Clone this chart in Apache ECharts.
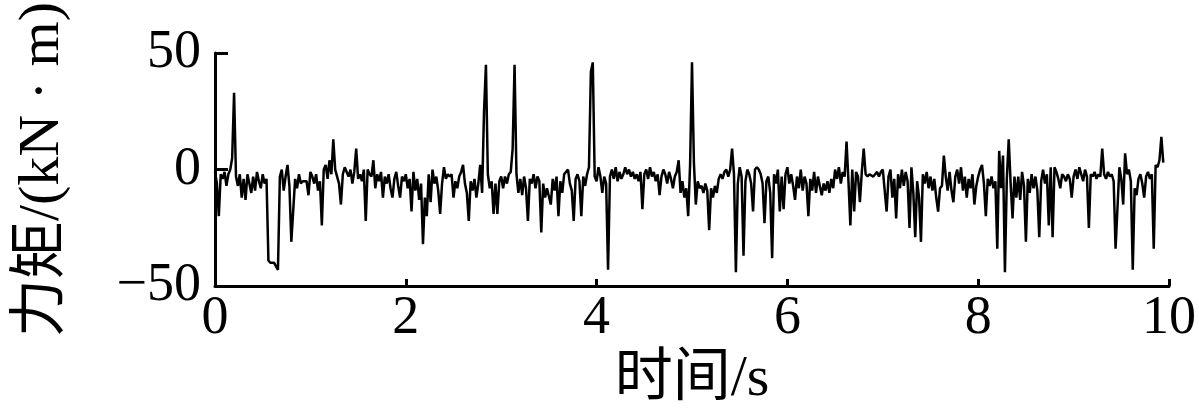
<!DOCTYPE html>
<html>
<head>
<meta charset="utf-8">
<script src="https://cdn.jsdelivr.net/npm/echarts@6/dist/echarts.min.js"></script>
<style>
html,body{margin:0;padding:0;background:#fff;}
#chart{width:1199px;height:414px;}
</style>
</head>
<body>
<div id="chart"></div>
<script>
// sample step of the torque record (s)
var sampleStep = 0.02;
// torque values (kN·m), one per sample
var torque = [
  -1, -6, -20, -2, -4,   -1, -7, -2, 0, 5,
  33, -3, -7, -2, -12,   -4, -13, -2, -6, -10,
  -3, -9, -1, -5, -8,    -2, -6, -4, -39, -40,
  -40, -40, -40, -43, -3, 0, -9, -3, 2, -7,
  -31, -31, -4, -8, -2,  -6, -5, -5, -5, -11,
  -1, -3, -6, -2, -9,    -5, -24, 0, 2, -4,
  4, -2, 13, 0, -3,      -6, -15, -2, 1, -1,
  -3, 0, -6, -1, 9,      -4, -2, -5, 0, -22,
  0, -2, -3, 4, -8,      -2, -5, -1, -12, -3,
  -6, -2, -8, -12, -4,   -1, -7, -12, -3, -5,
  -2, -8, -4, -18, -1,   -9, -4, -13, -6, -32,
  -12, -20, -2, -14, 0,  -6, -3, -9, -19, -6,
  1, -4, -2, -3, -2,     -12, -5, -8, -3, -1,
  2, -6, -10, -22, -5,   -9, -4, -12, -6, 2,
  -10, 25, 45, -2, -8,   -5, -19, -6, -19, -5,
  -3, -8, -3, -6, -2,    -1, 9, 45, -2, -10,
  -4, -11, -3, -8, -22,  -4, -6, -2, -8, -3,
  -5, -27, -6, -12, -8,  -8, -15, -4, -9, -3,
  -20, -5, -10, -2, -1,  0, -6, -9, -22, -4,
  -2, -5, -20, -3, -7,   -2, 1, 42, 46, -3,
  -5, 1, -3, -10, -3,    -6, -43, -3, 0, -4,
  1, -5, -1, -4, -2,     1, -2, 0, -3, -1,
  -4, -2, -5, -1, -17,   -2, 0, -4, 1, -3,
  -1, -5, -2, -11, -3,   0, -2, -6, -1, -4,
  -8, -3, -1, 4, -10,    -5, -12, -8, -20, 2,
  46, 3, -15, -5, -8,    -7, -10, -6, -9, -26,
  -8, -12, -7, -10, -4,  -2, -4, -1, 0, -3,
  0, 9, -2, -44, -6,     1, -3, -37, -5, 0,
  -2, -6, -18, 0, 1,     0, -2, -6, -23, -5,
  -3, -10, -38, -2, -6,  0, -18, -3, -17, -2,
  1, -6, -2, -7, -13,    -3, -8, 0, -9, -3,
  -6, -20, -4, -9, -1,   -10, -3, -7, -11, -6,
  -9, -5, -10, -4, -8,   0, -4, 1, -6, -1,
  -3, 12, -5, -24, 0,    -18, -1, -3, -14, -1,
  9, -2, -3, -2, -2,     -3, -2, -1, -3, -1,
  0, -9, -18, -3, 0,     -12, -4, -21, -2, -8,
  0, -7, -1, -5, -25,    1, -10, -29, -5, -12,
  -31, -2, -6, -1, -8,   -3, -9, -4, -12, -18,
  -8, -7, 6, -3, -9,     -1, -9, -14, -3, 0,
  -6, 1, -9, -3, -12,    -4, -8, -2, -15, -7,
  -3, 0, 2, -6, -20,     -4, -7, -3, -8, -5,
  -34, 8, -8, 6, -44,    -4, 13, -6, -21, -3,
  -12, -3, -13, -1, -7,  -31, -4, -10, -2, -8,
  -3, -9, -29, -5, 0,    -6, -2, -24, 1, -29,
  1, -1, -4, -8, -2,     -3, -5, -2, -4, -12,
  -3, 0, -4, 1, -2,      -5, 0, -3, -25, -2,
  -3, -1, -4, -2, -3,    9, -2, -4, -1, -3,
  -2, -5, -34, -34, 1,   -4, -15, 7, -2, 0,
  -5, -43, -8, -11, -4,  -2, -6, -12, -3, -1,
  -4, -2, -34, 2, 1,     4, 14, 3
];
var xTicks = [0, 2, 4, 6, 8, 10];
var yTicks = [-50, 0, 50];
var xTitle = '时间/s';
var yTitle = '力矩/(kN · m)';

var points = torque.map(function (v, i) {
  return [+(i * sampleStep).toFixed(2), v];
});

var font = "'Liberation Serif', 'Times New Roman', 'Noto Sans CJK SC', serif";
var chart = echarts.init(document.getElementById('chart'), null, {renderer: 'canvas'});
chart.setOption({
  animation: false,
  backgroundColor: '#ffffff',
  grid: {left: 215, right: 30, top: 53, bottom: 126, containLabel: false},
  xAxis: {
    type: 'value',
    min: xTicks[0], max: xTicks[xTicks.length - 1], interval: 2,
    name: xTitle, nameLocation: 'middle', nameGap: 52,
    nameTextStyle: {color: '#000', fontSize: 58, fontFamily: font},
    axisLine: {show: true, onZero: false, lineStyle: {color: '#000', width: 3}},
    axisTick: {show: true, inside: true, length: 7, lineStyle: {color: '#000', width: 3}},
    axisLabel: {color: '#000', fontSize: 54, fontFamily: font, margin: 6},
    splitLine: {show: false}
  },
  yAxis: {
    type: 'value',
    min: yTicks[0], max: yTicks[yTicks.length - 1], interval: 50,
    name: yTitle, nameLocation: 'middle', nameGap: 143, nameRotate: 90,
    nameTextStyle: {color: '#000', fontSize: 58, fontFamily: font},
    axisLine: {show: true, lineStyle: {color: '#000', width: 3}},
    axisTick: {show: true, inside: true, length: 13, lineStyle: {color: '#000', width: 3}},
    axisLabel: {color: '#000', fontSize: 54, fontFamily: font, margin: 14,
      formatter: function (v) { return String(v).replace('-', '\u2212'); }},
    splitLine: {show: false}
  },
  series: [{
    type: 'line',
    data: points,
    showSymbol: false,
    symbol: 'none',
    lineStyle: {color: '#000', width: 2.5},
    z: 1
  }]
});
</script>
</body>
</html>
